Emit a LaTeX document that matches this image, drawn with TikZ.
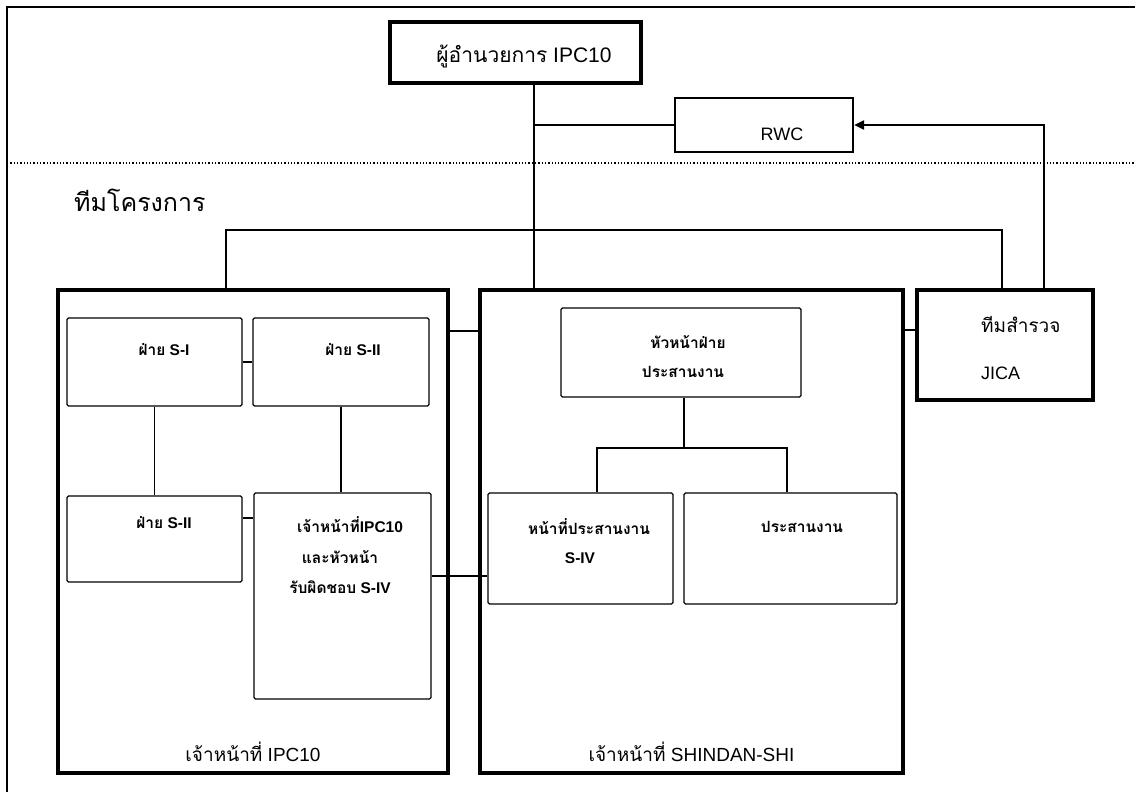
\documentclass[tikz,border=0pt]{standalone}
\usepackage{fontspec}
\setmainfont{Liberation Sans}
\newfontfamily\thaifont[Script=Thai]{Loma}
\usetikzlibrary{arrows.meta}
\newcommand{\tha}[1]{{\thaifont #1}}
\begin{document}
\begin{tikzpicture}[x=1pt,y=-1pt,
  heavybox/.style={draw,line width=3.5pt,inner sep=0pt},
  midbox/.style={draw,line width=2.2pt,inner sep=0pt},
  unitbox/.style={draw,line width=1.3pt,rounded corners=1.5pt,inner sep=0pt},
  heavyline/.style={line width=2.6pt},
  thinline/.style={line width=1.3pt},
  unittext/.style={font=\bfseries\fontsize{15.5}{17}\selectfont,inner sep=0pt},
  plaintext/.style={font=\fontsize{19}{21}\selectfont,inner sep=0pt}]
\useasboundingbox (0,0) rectangle (1135,792);

% page frame and the dotted divider
\draw[line width=1.5pt] (7,792) -- (7,7) -- (1135,7);
\coordinate (dl) at (7,163);
\coordinate (dr) at (1135,163);
\draw[dotted,line width=1.3pt] (dl) -- (dr);

% top level
\node[heavybox,minimum width=251pt,minimum height=61pt] (dir) at (515.5,52.5) {};
\node[plaintext,font=\fontsize{21}{23}\selectfont] (dirt) at (524,56) {\tha{ผู้อำนวยการ} IPC10};
\node[midbox,minimum width=178pt,minimum height=54pt] (rwc) at (764,125) {};
\node[plaintext,font=\fontsize{18}{20}\selectfont] (rwct) at (782,134) {RWC};

\node[plaintext,anchor=west,font=\thaifont\fontsize{25}{27}\selectfont] (team) at (74,200) {ทีมโครงการ};

% project team groups
\node[heavybox,minimum width=390pt,minimum height=483pt] (L) at (253,531.5) {};
\node[heavybox,minimum width=423pt,minimum height=483pt] (M) at (691.5,531.5) {};
\node[heavybox,minimum width=176pt,minimum height=110pt] (J) at (1005,345) {};
\node[plaintext,anchor=west,font=\thaifont\fontsize{19}{21}\selectfont] (jt1) at (981,325) {ทีมสำรวจ};
\node[plaintext,anchor=west,font=\fontsize{18}{20}\selectfont] (jt2) at (981,373) {JICA};

\node[plaintext] (Lt) at (253,752) {\tha{เจ้าหน้าที่} IPC10};
\node[plaintext] (Mt) at (691.5,752) {\tha{เจ้าหน้าที่} SHINDAN-SHI};

% units of the IPC10 staff
\node[unitbox,minimum width=175pt,minimum height=88pt] (s1) at (154.5,362) {};
\node[unitbox,minimum width=176pt,minimum height=88pt] (s2) at (341,362) {};
\node[unitbox,minimum width=175pt,minimum height=86pt] (s3) at (154.5,539) {};
\node[unitbox,minimum width=177pt,minimum height=206pt] (s4) at (342.5,596) {};
\node[unittext] (s1t) at (164,350) {\tha{ฝ่าย} S-I};
\node[unittext] (s2t) at (353,350) {\tha{ฝ่าย} S-II};
\node[unittext] (s3t) at (164,523) {\tha{ฝ่าย} S-II};
\node[unittext] (s4a) at (350,525) {\tha{เจ้าหน้าที่}IPC10};
\node[unittext] (s4b) at (340,557) {\tha{และหัวหน้า}};
\node[unittext] (s4c) at (340,587) {\tha{รับผิดชอบ} S-IV};

% units of the SHINDAN-SHI staff
\node[unitbox,minimum width=240pt,minimum height=89pt] (head) at (681,352.5) {};
\node[unitbox,minimum width=185pt,minimum height=111pt] (sv) at (580.5,548.5) {};
\node[unitbox,minimum width=213pt,minimum height=111pt] (pr) at (790.5,548.5) {};
\node[unittext] (ht1) at (688,342) {\tha{หัวหน้าฝ่าย}};
\node[unittext] (ht2) at (683,372) {\tha{ประสานงาน}};
\node[unittext] (svt1) at (589,527) {\tha{หน้าที่ประสานงาน}};
\node[unittext] (svt2) at (580,558) {S-IV};
\node[unittext] (prt) at (802,527) {\tha{ประสานงาน}};

% junction points
\coordinate (dv) at (534,125);
\coordinate (ja) at (1044,125);
\coordinate (bl) at (226,230);
\coordinate (br) at (1002,230);
\coordinate (lm) at (0,331);
\coordinate (mj) at (0,330);
\coordinate (s34) at (0,518);
\coordinate (s4v) at (0,576);
\coordinate (hb) at (684,448);
\coordinate (brL) at (597,448);
\coordinate (brR) at (787,448);

% connectors
\draw[heavyline,line width=2pt] (dv |- dir.south) -- (dv |- M.north);
\draw[heavyline,line width=2pt] (dv) -- (rwc.west);
\draw[heavyline,line width=2pt,-{Triangle[length=10pt,width=9pt]}] (ja |- J.north) -- (ja) -- (rwc.east);
\draw[heavyline] (bl |- L.north) -- (bl) -- (br) -- (br |- J.north);
\draw[heavyline] (L.east |- lm) -- (M.west |- lm);
\draw[heavyline] (M.east |- mj) -- (J.west |- mj);
\draw[heavyline] (s4.east |- s4v) -- (sv.west |- s4v);

\draw[thinline] (s1.east) -- (s2.west);
\draw[thinline] (s1.south) -- (s3.north);
\draw[thinline] (s2.south) -- (s2.south |- s4.north);
\draw[thinline] (s3.east |- s34) -- (s4.west |- s34);
\draw[thinline] (head.south -| hb) -- (hb);
\draw[thinline] (brL |- sv.north) -- (brL) -- (brR) -- (brR |- pr.north);
\end{tikzpicture}
\end{document}
